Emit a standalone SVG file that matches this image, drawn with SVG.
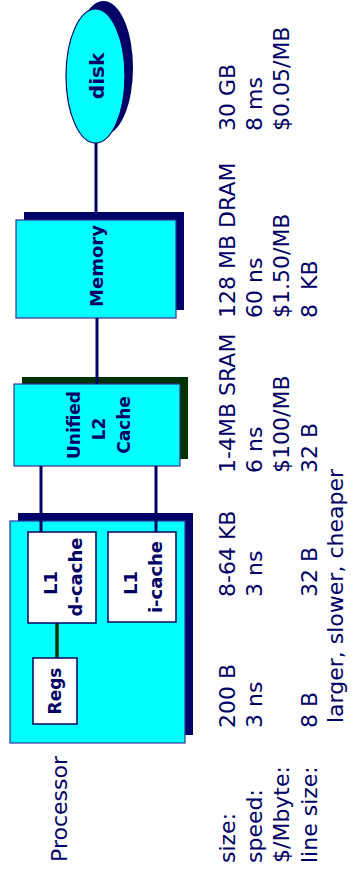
<svg xmlns="http://www.w3.org/2000/svg" width="355" height="870" viewBox="0 0 355 870">
<style>
.sh{fill:#000066}
.shg{fill:#003300}
.box{fill:#00FFFF;stroke:#333399;stroke-width:1.2}
.wbox{fill:#FFFFFF;stroke:#000066;stroke-width:1.5}
.con{stroke:#000066;stroke-width:3;fill:none}
.cong{stroke:#003300;stroke-width:3.5;fill:none}
.lb{font-family:"DejaVu Sans",sans-serif;font-weight:bold;fill:#000066;text-anchor:middle}
.tx{font-family:"DejaVu Sans",sans-serif;font-size:22px;fill:#000066}
</style>
<rect width="355" height="870" fill="#FFFFFF"/>
<g id="disk">
<ellipse class="sh" cx="103.5" cy="68" rx="29.5" ry="67"/>
<ellipse cx="95.5" cy="76" rx="29.5" ry="67" fill="#00FFFF" stroke="#000066" stroke-width="1.2"/>
<text class="lb" font-size="20" transform="translate(104,76) rotate(-90)">disk</text>
</g>
<g id="memory">
<rect class="sh" x="24" y="212" width="160" height="98"/>
<rect class="box" x="16" y="220" width="160" height="98"/>
<text class="lb" font-size="18" transform="translate(103,266) rotate(-90)">Memory</text>
</g>
<g id="l2cache">
<rect class="shg" x="22" y="377" width="166" height="82"/>
<rect class="box" x="14" y="384" width="166" height="82"/>
<text class="lb" font-size="17" transform="translate(80,425) rotate(-90)">Unified</text>
<text class="lb" font-size="17" transform="translate(105,429) rotate(-90)">L2</text>
<text class="lb" font-size="17" transform="translate(130,425) rotate(-90)">Cache</text>
</g>
<g id="processor">
<rect class="sh" x="18" y="513" width="175" height="222"/>
<rect class="box" x="10" y="521" width="175" height="222"/>
<text class="tx" transform="translate(67,862) rotate(-90)">Processor</text>
</g>
<g id="connectors">
<line class="con" x1="96" y1="143" x2="96" y2="212"/>
<line class="con" x1="97" y1="318" x2="97" y2="384"/>
<line class="con" x1="41" y1="466" x2="41" y2="532"/>
<line class="con" x1="156" y1="466" x2="156" y2="532"/>
<line class="cong" x1="57" y1="623" x2="57" y2="658"/>
</g>
<g id="l1dcache">
<rect class="wbox" x="28" y="532" width="68" height="91"/>
<text class="lb" font-size="18" transform="translate(57,583) rotate(-90)">L1</text>
<text class="lb" font-size="18" transform="translate(82,577) rotate(-90)">d-cache</text>
</g>
<g id="l1icache">
<rect class="wbox" x="108" y="532" width="68" height="90"/>
<text class="lb" font-size="18" transform="translate(137,583) rotate(-90)">L1</text>
<text class="lb" font-size="18" transform="translate(162,577) rotate(-90)">i-cache</text>
</g>
<g id="regs">
<rect class="wbox" x="33" y="658" width="44" height="66"/>
<text class="lb" font-size="17" transform="translate(61,691) rotate(-90)">Regs</text>
</g>
<g id="table">
<text class="tx" transform="translate(235,863) rotate(-90)">size:</text>
<text class="tx" transform="translate(262,863) rotate(-90)">speed:</text>
<text class="tx" transform="translate(289,863) rotate(-90)">$/Mbyte:</text>
<text class="tx" transform="translate(317,863) rotate(-90)">line size:</text>
<text class="tx" transform="translate(235,728) rotate(-90)">200 B</text>
<text class="tx" transform="translate(262,728) rotate(-90)">3 ns</text>
<text class="tx" transform="translate(317,728) rotate(-90)">8 B</text>
<text class="tx" transform="translate(235,597) rotate(-90)">8-64 KB</text>
<text class="tx" transform="translate(262,597) rotate(-90)">3 ns</text>
<text class="tx" transform="translate(317,597) rotate(-90)">32 B</text>
<text class="tx" transform="translate(235,473) rotate(-90)">1-4MB SRAM</text>
<text class="tx" transform="translate(262,473) rotate(-90)">6 ns</text>
<text class="tx" transform="translate(289,473) rotate(-90)">$100/MB</text>
<text class="tx" transform="translate(317,473) rotate(-90)">32 B</text>
<text class="tx" transform="translate(235,318) rotate(-90)">128 MB DRAM</text>
<text class="tx" transform="translate(262,318) rotate(-90)">60 ns</text>
<text class="tx" transform="translate(289,318) rotate(-90)">$1.50/MB</text>
<text class="tx" transform="translate(317,318) rotate(-90)">8&#160; KB</text>
<text class="tx" transform="translate(235,131) rotate(-90)">30 GB</text>
<text class="tx" transform="translate(262,131) rotate(-90)">8 ms</text>
<text class="tx" transform="translate(289,131) rotate(-90)">$0.05/MB</text>
<text class="tx" transform="translate(343,723) rotate(-90)">larger, slower, cheaper</text>
</g>
</svg>
